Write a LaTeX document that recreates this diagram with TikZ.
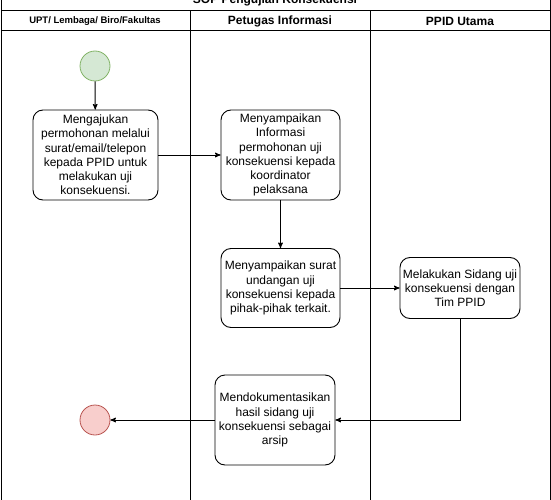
\documentclass[tikz,border=0pt]{standalone}
\usepackage{fontspec}
\setmainfont{Liberation Sans}
\usetikzlibrary{shapes,arrows,chains}
\tikzstyle{line} = [draw, line width=1pt]
\tikzstyle{arrow} = [line width=1pt,->,>=stealth']
\tikzstyle{activity} = [rectangle, rounded corners=10pt, draw=black, line width=0.9pt, align=center, inner sep=0pt, font=\fontsize{12}{14.2}\selectfont]
\tikzstyle{state} = [circle, minimum size=30pt, inner sep=0pt, line width=0.8pt]

\begin{document}
\begin{tikzpicture}[x=1pt,y=-1pt]
        \useasboundingbox (0,0) rectangle (551,500);

        % lanes
        \draw[line] (1,-30) rectangle (550,530);
        \draw[line] (1,10.5) -- (550,10.5);
        \draw[line] (1,31) -- (550,31);
        \draw[line] (190,10.5) -- (190,530);
        \draw[line] (370,10.5) -- (370,530);
        \node (T) at (275,0) {\fontsize{12}{14}\selectfont\bfseries SOP Pengujian Konsekuensi};
        \node (H1) at (95,21) {\fontsize{9.5}{11}\selectfont\bfseries UPT/ Lembaga/ Biro/Fakultas};
        \node (H2) at (280,21) {\fontsize{12}{14}\selectfont\bfseries Petugas Informasi};
        \node (H3) at (460,21) {\fontsize{12}{14}\selectfont\bfseries PPID Utama};

        \node (S) [state, fill={rgb,255:red,213;green,232;blue,212}, draw={rgb,255:red,130;green,179;blue,102}] at (95,66) {};
        \node (1) [activity, minimum width=125pt, minimum height=90pt] at (95.5,155) {Mengajukan \\ permohonan melalui \\ surat/email/telepon \\ kepada PPID untuk \\ melakukan uji \\ konsekuensi.};
        \node (2) [activity, minimum width=119pt, minimum height=90pt] at (280.5,155) {Menyampaikan \\ Informasi \\ permohonan uji \\ konsekuensi kepada \\ koordinator \\ pelaksana};
        \node (3) [activity, minimum width=119pt, minimum height=79pt] at (280.5,288) {Menyampaikan surat \\ undangan uji \\ konsekuensi kepada \\ pihak-pihak terkait.};
        \node (4) [activity, minimum width=120pt, minimum height=61pt] at (460,288) {Melakukan Sidang uji \\ konsekuensi dengan \\ Tim PPID};
        \node (5) [activity, minimum width=120pt, minimum height=90pt] at (275,420) {Mendokumentasikan \\ hasil sidang uji \\ konsekuensi sebagai \\ arsip};
        \node (E) [state, fill={rgb,255:red,248;green,206;blue,204}, draw={rgb,255:red,184;green,84;blue,80}] at (95,420) {};

        \draw[arrow] (S) -- (1);
        \draw[arrow] (1) -- (2);
        \draw[arrow] (2) -- (3);
        \draw[arrow] (3) -- (4);
        \draw[arrow] (4.south) |- (5.east);
        \draw[arrow] (5) -- (E);

    \end{tikzpicture}
\end{document}
